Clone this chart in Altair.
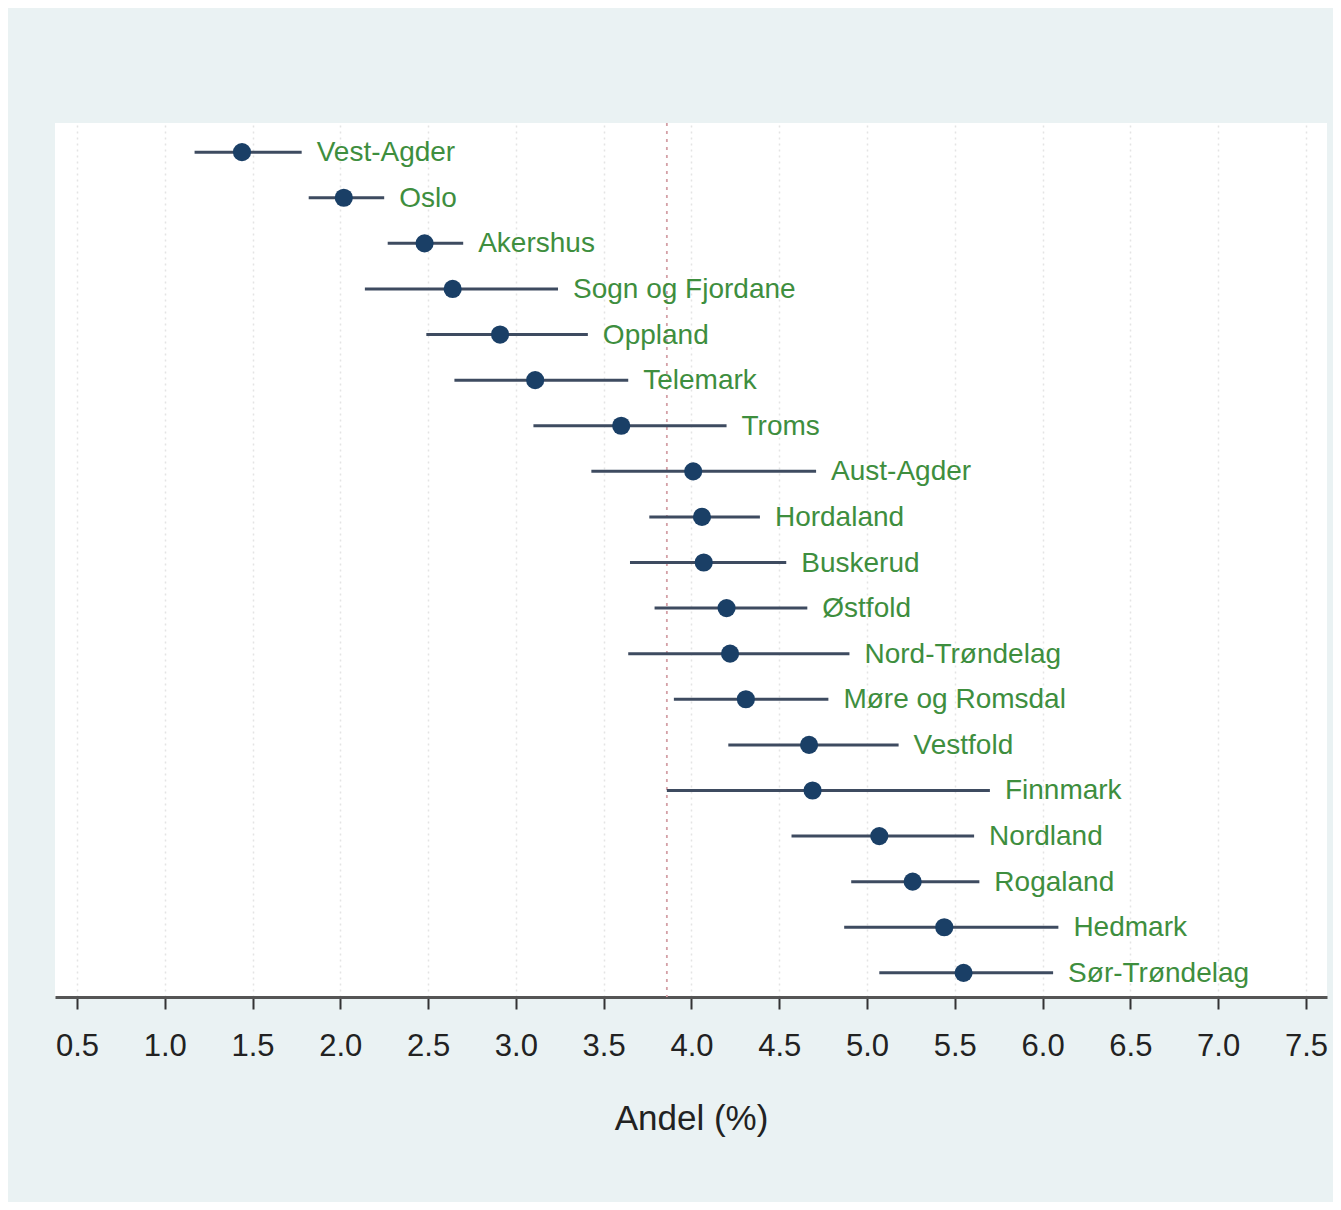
import altair as alt
import pandas as pd

counties = ["Vest-Agder", "Oslo", "Akershus", "Sogn og Fjordane", "Oppland", "Telemark",
            "Troms", "Aust-Agder", "Hordaland", "Buskerud", "Østfold", "Nord-Trøndelag",
            "Møre og Romsdal", "Vestfold", "Finnmark", "Nordland", "Rogaland", "Hedmark",
            "Sør-Trøndelag"]
estimate = [1.44, 2.02, 2.48, 2.64, 2.91, 3.11, 3.60, 4.01, 4.06, 4.07, 4.20, 4.22,
            4.31, 4.67, 4.69, 5.07, 5.26, 5.44, 5.55]
lower = [1.17, 1.82, 2.27, 2.14, 2.49, 2.65, 3.10, 3.43, 3.76, 3.65, 3.79, 3.64,
         3.90, 4.21, 3.86, 4.57, 4.91, 4.87, 5.07]
upper = [1.78, 2.25, 2.70, 3.24, 3.41, 3.64, 4.20, 4.71, 4.39, 4.54, 4.66, 4.90,
         4.78, 5.18, 5.70, 5.61, 5.64, 6.09, 6.06]
reference = [3.86]
ticks = [0.5, 1.0, 1.5, 2.0, 2.5, 3.0, 3.5, 4.0, 4.5, 5.0, 5.5, 6.0, 6.5, 7.0, 7.5]

df = pd.DataFrame({
    "county": counties,
    "est": estimate,
    "lo": lower,
    "hi": upper,
    "rank": list(range(1, len(counties) + 1)),
})
ref_df = pd.DataFrame({"ref": reference})

FONT = "Liberation Sans Narrow, Arial Narrow, Liberation Sans, Arial, sans-serif"

xscale = alt.Scale(domain=[0.375, 7.62], nice=False, zero=False)
yscale = alt.Scale(domain=[0.36, 19.53], reverse=True, nice=False, zero=False)

xaxis = alt.Axis(
    values=ticks, format=".1f", title="Andel (%)",
    labelFont=FONT, labelFontSize=31, labelColor="#222222", labelPadding=22,
    titleFont=FONT, titleFontSize=35, titleFontWeight="normal", titleColor="#222222",
    titlePadding=40,
    tickSize=12, tickWidth=2, tickColor="#333333",
    domainColor="#555555", domainWidth=3,
    grid=True, gridColor="#E4E4E4", gridDash=[2, 4], gridWidth=1.5,
)

base = alt.Chart(df)

grid_layer = alt.Chart(pd.DataFrame({"t": ticks})).mark_rule(opacity=0).encode(
    x=alt.X("t:Q", scale=xscale, axis=xaxis)
)

ref_line = alt.Chart(ref_df).mark_rule(
    color="#D4A0A6", strokeDash=[3, 5], strokeWidth=1.8
).encode(x=alt.X("ref:Q", scale=xscale))

bars = base.mark_rule(color="#3E4B60", strokeWidth=3).encode(
    x=alt.X("lo:Q", scale=xscale),
    x2="hi:Q",
    y=alt.Y("rank:Q", scale=yscale, axis=None),
)

points = base.mark_circle(size=330, color="#1A3F66", opacity=1).encode(
    x=alt.X("est:Q", scale=xscale),
    y=alt.Y("rank:Q", scale=yscale, axis=None),
)

labels = base.mark_text(
    align="left", baseline="middle", dx=15, dy=1, font=FONT, fontSize=28, color="#3E8E3E"
).encode(
    x=alt.X("hi:Q", scale=xscale),
    y=alt.Y("rank:Q", scale=yscale, axis=None),
    text="county:N",
)

chart = alt.layer(grid_layer, ref_line, bars, points, labels).properties(
    width=1272,
    height=874,
    background="#EAF2F3",
    padding={"left": 47, "top": 115, "right": 6, "bottom": 205},
    autosize=alt.AutoSizeParams(type="none"),
).configure_view(fill="white", stroke=None)

chart.save("out.html", embed_options={"renderer": "svg", "actions": False})
